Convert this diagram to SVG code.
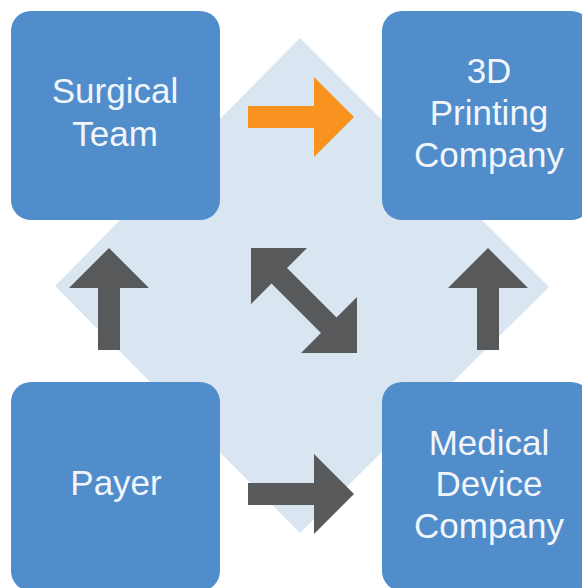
<svg xmlns="http://www.w3.org/2000/svg" width="582" height="588" viewBox="0 0 582 588">
<style>
.box{fill:#508DCA}
.lbl{font-family:"Liberation Sans",Arial,sans-serif;font-size:35px;fill:#F2F5FA;text-anchor:middle}
.dark{fill:#58595B}
.orange{fill:#F7931E}
</style>
<rect width="582" height="588" fill="#FFFFFF"/>
<polygon id="backdrop" points="300,38 549,287 300,533 55,286" fill="#D9E5F1"/>
<g id="connectors">
<polygon class="orange" points="248,106 314,106 314,77 354,117 314,157 314,128 248,128"/>
<polygon class="dark" points="248,483 314,483 314,454 354,494 314,534 314,505 248,505"/>
<polygon class="dark" points="98,350 98,288 69,288 109,248 149,288 120,288 120,350"/>
<polygon class="dark" points="477,350 477,288 448,288 488,248 528,288 499,288 499,350"/>
<polygon class="dark" points="251,248 307,248 287,268 336.5,317.5 357,297 357,353 301,353 321,333 271.5,283.5 251,304"/>
</g>
<g id="surgical-team">
<rect class="box" x="11" y="11" width="209" height="209" rx="20"/>
<text class="lbl" x="115" y="103">Surgical</text>
<text class="lbl" x="115" y="146">Team</text>
</g>
<g id="printing-company">
<rect class="box" x="382" y="11" width="209" height="209" rx="20"/>
<text class="lbl" x="489" y="83">3D</text>
<text class="lbl" x="489" y="125">Printing</text>
<text class="lbl" x="489" y="167">Company</text>
</g>
<g id="payer">
<rect class="box" x="11" y="382" width="209" height="209" rx="20"/>
<text class="lbl" x="116" y="495">Payer</text>
</g>
<g id="medical-device-company">
<rect class="box" x="382" y="382" width="209" height="209" rx="20"/>
<text class="lbl" x="489" y="455">Medical</text>
<text class="lbl" x="489" y="496">Device</text>
<text class="lbl" x="489" y="538">Company</text>
</g>
</svg>
